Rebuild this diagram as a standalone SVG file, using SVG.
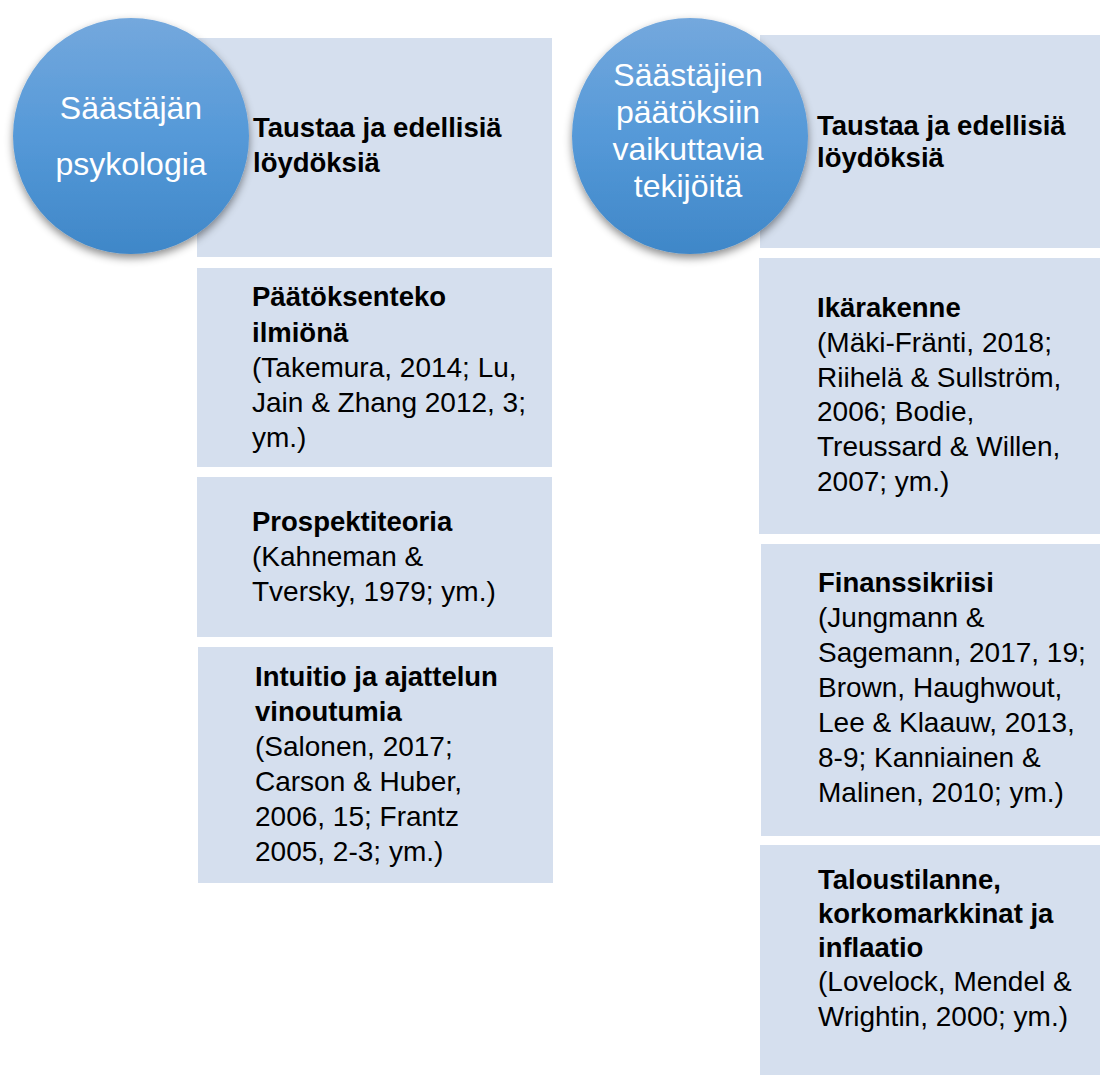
<svg xmlns="http://www.w3.org/2000/svg" width="1100" height="1075" viewBox="0 0 1100 1075">
<defs>
<linearGradient id="cg" x1="0" y1="0" x2="0" y2="1">
<stop offset="0" stop-color="#74A8DD"/>
<stop offset="0.5" stop-color="#5599D8"/>
<stop offset="1" stop-color="#3F87C8"/>
</linearGradient>
<filter id="sh" x="-20%" y="-20%" width="140%" height="150%">
<feDropShadow dx="0" dy="4" stdDeviation="4" flood-color="#000" flood-opacity="0.45"/>
</filter>
<style>
.box{fill:#D5DFEE}
.circ{fill:url(#cg);filter:url(#sh)}
.ct{font-family:"Liberation Sans",Arial,sans-serif;font-size:32px;fill:#fff;text-anchor:middle}
.h{font-family:"Liberation Sans",Arial,sans-serif;font-size:27.5px;font-weight:bold;fill:#000}
.r{font-family:"Liberation Sans",Arial,sans-serif;font-size:28px;fill:#000}
</style>
</defs>
<rect width="1100" height="1075" fill="#fff"/>
<g id="connectors"></g>
<g id="box-l1"><rect class="box" x="197" y="38" width="355" height="219"/>
<text class="h" x="253" y="137">Taustaa ja edellisiä</text><text class="h" x="253" y="172">löydöksiä</text></g>
<g id="box-l2"><rect class="box" x="197" y="268" width="355" height="199"/>
<text class="h" x="252" y="306">Päätöksenteko</text><text class="h" x="252" y="342">ilmiönä</text>
<text class="r" x="252" y="377">(Takemura, 2014; Lu,</text><text class="r" x="252" y="412">Jain &amp; Zhang 2012, 3;</text><text class="r" x="252" y="447">ym.)</text></g>
<g id="box-l3"><rect class="box" x="197" y="477" width="355" height="160"/>
<text class="h" x="252" y="531">Prospektiteoria</text><text class="r" x="252" y="566">(Kahneman &amp;</text><text class="r" x="252" y="601">Tversky, 1979; ym.)</text></g>
<g id="box-l4"><rect class="box" x="198" y="647" width="355" height="236"/>
<text class="h" x="255" y="686">Intuitio ja ajattelun</text><text class="h" x="255" y="721">vinoutumia</text>
<text class="r" x="255" y="756">(Salonen, 2017;</text><text class="r" x="255" y="791">Carson &amp; Huber,</text><text class="r" x="255" y="826">2006, 15; Frantz</text><text class="r" x="255" y="861">2005, 2-3; ym.)</text></g>
<g id="box-r1"><rect class="box" x="760" y="35" width="340" height="213"/>
<text class="h" x="817" y="135">Taustaa ja edellisiä</text><text class="h" x="817" y="167">löydöksiä</text></g>
<g id="box-r2"><rect class="box" x="759" y="258" width="341" height="276"/>
<text class="h" x="817" y="317">Ikärakenne</text>
<text class="r" x="817" y="352">(Mäki-Fränti, 2018;</text><text class="r" x="817" y="387">Riihelä &amp; Sullström,</text><text class="r" x="817" y="421">2006; Bodie,</text><text class="r" x="817" y="456">Treussard &amp; Willen,</text><text class="r" x="817" y="491">2007; ym.)</text></g>
<g id="box-r3"><rect class="box" x="761" y="544" width="339" height="292"/>
<text class="h" x="818" y="592">Finanssikriisi</text>
<text class="r" x="818" y="627">(Jungmann &amp;</text><text class="r" x="818" y="662">Sagemann, 2017, 19;</text><text class="r" x="818" y="697">Brown, Haughwout,</text><text class="r" x="818" y="732">Lee &amp; Klaauw, 2013,</text><text class="r" x="818" y="767">8-9; Kanniainen &amp;</text><text class="r" x="818" y="802">Malinen, 2010; ym.)</text></g>
<g id="box-r4"><rect class="box" x="760" y="845" width="340" height="230"/>
<text class="h" x="818" y="889">Taloustilanne,</text><text class="h" x="818" y="923">korkomarkkinat ja</text><text class="h" x="818" y="957">inflaatio</text>
<text class="r" x="818" y="991">(Lovelock, Mendel &amp;</text><text class="r" x="818" y="1026">Wrightin, 2000; ym.)</text></g>
<g id="circle-l"><circle class="circ" cx="131" cy="136" r="118"/>
<text class="ct" x="131" y="119">Säästäjän</text><text class="ct" x="131" y="175">psykologia</text></g>
<g id="circle-r"><circle class="circ" cx="690" cy="136" r="118"/>
<text class="ct" x="688" y="86">Säästäjien</text><text class="ct" x="688" y="123">päätöksiin</text><text class="ct" x="688" y="160">vaikuttavia</text><text class="ct" x="688" y="197">tekijöitä</text></g>
</svg>
